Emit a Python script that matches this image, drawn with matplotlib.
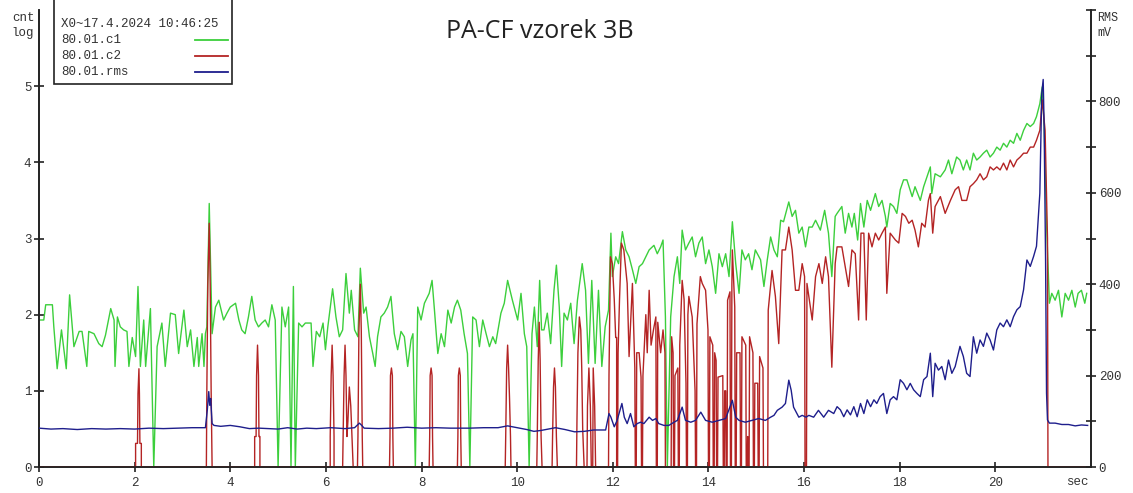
import matplotlib
matplotlib.use("Agg")
import matplotlib.pyplot as plt
from matplotlib.lines import Line2D
from matplotlib.patches import Rectangle

# ---- channel c1 (log counts) ----
c1_t = [0, 0.1, 0.14, 0.28, 0.31, 0.38, 0.47, 0.57, 0.64, 0.73, 0.84, 0.9, 1.0, 1.04, 1.15, 1.25,
        1.32, 1.39, 1.5, 1.57, 1.59, 1.64, 1.7, 1.77, 1.84, 1.88, 1.95, 2.02, 2.07, 2.12, 2.19, 2.23,
        2.33, 2.40, 2.47, 2.57, 2.64, 2.75, 2.85, 2.92, 3.03, 3.10, 3.17, 3.24, 3.31, 3.34, 3.41, 3.45,
        3.48, 3.51, 3.56, 3.62, 3.69, 3.76, 3.86, 3.93, 4.0, 4.11, 4.18, 4.24, 4.31, 4.38, 4.45, 4.52,
        4.59, 4.66, 4.73, 4.8, 4.87, 4.94, 5.0, 5.08, 5.15, 5.22, 5.27, 5.32, 5.36, 5.43, 5.5, 5.57,
        5.69, 5.73, 5.80, 5.87, 5.94, 5.99, 6.04, 6.14, 6.21, 6.28, 6.35, 6.42, 6.49, 6.53, 6.60, 6.67,
        6.72, 6.79, 6.84, 6.91, 6.98, 7.03, 7.08, 7.15, 7.22, 7.29, 7.36, 7.43, 7.50, 7.57, 7.64, 7.71,
        7.78, 7.82, 7.87, 7.92, 7.99, 8.06, 8.16, 8.22, 8.27, 8.34, 8.41, 8.48, 8.55, 8.62, 8.69, 8.75,
        8.82, 8.89, 8.96, 9.01, 9.07, 9.14, 9.21, 9.28, 9.35, 9.42, 9.49, 9.55, 9.66, 9.73, 9.80, 9.90,
        10.01, 10.08, 10.15, 10.20, 10.25, 10.31, 10.36, 10.42, 10.47, 10.51, 10.56, 10.63, 10.70, 10.77,
        10.82, 10.88, 10.93, 10.98, 11.05, 11.12, 11.19, 11.26, 11.36, 11.43, 11.49, 11.56, 11.63, 11.70,
        11.77, 11.84, 11.91, 11.96, 11.99, 12.06, 12.12, 12.20, 12.27, 12.34, 12.41, 12.48, 12.55, 12.62,
        12.69, 12.76, 12.86, 12.93, 13.0, 13.05, 13.10, 13.14, 13.21, 13.28, 13.35, 13.40, 13.45, 13.52,
        13.59, 13.66, 13.73, 13.80, 13.87, 13.94, 14.01, 14.08, 14.15, 14.22, 14.29, 14.36, 14.43, 14.50,
        14.57, 14.64, 14.70, 14.77, 14.84, 14.91, 14.98, 15.09, 15.16, 15.23, 15.30, 15.37, 15.44, 15.51,
        15.57, 15.68, 15.75, 15.82, 15.89, 15.96, 16.03, 16.10, 16.17, 16.24, 16.34, 16.43, 16.51, 16.58,
        16.65, 16.69, 16.79, 16.86, 16.93, 17.0, 17.05, 17.12, 17.18, 17.25, 17.32, 17.39, 17.49, 17.56,
        17.63, 17.70, 17.73, 17.80, 17.87, 17.94, 18.01, 18.08, 18.15, 18.26, 18.32, 18.43, 18.50, 18.57,
        18.64, 18.67, 18.74, 18.85, 18.95, 19.02, 19.09, 19.19, 19.26, 19.33, 19.40, 19.47, 19.54, 19.61,
        19.68, 19.75, 19.82, 19.89, 19.96, 20.03, 20.10, 20.17, 20.24, 20.31, 20.38, 20.45, 20.52, 20.59,
        20.66, 20.73, 20.80, 20.86, 20.93, 20.98, 21.02, 21.07, 21.13, 21.18, 21.25, 21.32, 21.39, 21.46,
        21.53, 21.60, 21.67, 21.73, 21.80, 21.87, 21.91]
c1_v = [1.93, 1.93, 2.13, 2.13, 1.84, 1.29, 1.8, 1.29, 2.26, 1.58, 1.78, 1.78, 1.32, 1.78, 1.75, 1.62,
        1.58, 1.73, 2.08, 1.93, 1.32, 1.97, 1.84, 1.8, 1.78, 1.32, 1.7, 1.45, 2.37, 1.32, 1.93, 1.32,
        2.08, 0.0, 1.58, 1.89, 1.32, 2.02, 2.0, 1.49, 2.06, 1.58, 1.8, 1.32, 1.7, 1.32, 1.75, 1.32,
        1.75, 1.84, 3.46, 1.75, 2.1, 2.19, 1.93, 2.02, 2.1, 2.15, 1.93, 1.8, 1.75, 1.97, 2.24, 1.93,
        1.84, 1.89, 1.93, 1.84, 2.13, 1.93, 0.0, 2.1, 1.84, 2.1, 0.0, 2.37, 0.0, 1.89, 1.84, 1.89,
        1.89, 1.32, 1.78, 1.71, 1.89, 1.54, 1.84, 2.34, 1.97, 1.71, 1.8, 2.54, 2.02, 2.32, 1.8, 1.71,
        2.61, 2.02, 2.1, 1.71, 1.49, 1.32, 1.71, 1.97, 2.02, 2.1, 2.24, 1.75, 1.54, 1.78, 1.71, 1.32,
        1.67, 1.75, 0.0, 2.1, 1.93, 2.15, 2.28, 2.45, 2.06, 1.49, 1.75, 1.58, 2.06, 1.89, 2.1, 2.19,
        2.06, 1.75, 1.49, 0.0, 1.97, 1.93, 1.58, 1.93, 1.75, 1.58, 1.71, 1.62, 2.02, 2.15, 2.45, 2.19,
        1.93, 2.28, 1.75, 1.58, 0.0, 1.75, 2.1, 1.58, 2.45, 1.8, 1.8, 2.02, 1.62, 2.32,
        2.65, 2.1, 1.32, 2.02, 1.93, 2.15, 1.62, 2.19, 2.67, 2.32, 1.36, 2.45, 1.36, 2.32,
        1.32, 1.84, 2.06, 3.07, 2.5, 2.76, 2.67, 3.09, 2.85, 2.76, 2.59, 2.41, 2.63, 2.67,
        2.76, 2.85, 2.91, 2.80, 2.89, 2.98, 1.97, 0.0, 1.97, 2.5, 2.76, 2.41, 3.11, 2.85,
        2.94, 3.02, 2.76, 2.94, 3.02, 2.67, 2.85, 2.63, 2.28, 2.80, 2.63, 2.80, 2.5, 3.22,
        2.67, 2.28, 2.85, 2.72, 2.80, 2.59, 2.85, 2.72, 2.37, 2.72, 3.02, 2.85, 2.76, 3.24,
        3.22, 3.48, 3.29, 3.37, 3.07, 3.15, 2.89, 3.15, 3.15, 3.24, 3.11, 3.37, 3.07, 2.5,
        3.29, 3.33, 3.42, 3.07, 3.33, 3.15, 3.33, 2.98, 3.46, 3.15, 3.50, 3.37, 3.59, 3.42,
        3.50, 3.29, 3.15, 3.46, 3.42, 3.33, 3.64, 3.77, 3.77, 3.55, 3.68, 3.50, 3.68, 3.81,
        3.94, 3.59, 3.85, 3.81, 3.90, 4.03, 3.85, 4.07, 4.03, 3.90, 4.03, 3.90, 4.12, 4.03,
        4.07, 4.12, 4.16, 4.07, 4.12, 4.20, 4.16, 4.25, 4.20, 4.29, 4.25, 4.38, 4.29, 4.42,
        4.51, 4.47, 4.51, 4.60, 4.77, 4.99, 4.47, 3.2, 2.15, 2.28, 2.19, 2.32, 1.97, 2.28,
        2.19, 2.32, 2.10, 2.28, 2.32, 2.15, 2.28]

# ---- channel c2 (log counts) ----
c2_t = [0, 2.02, 2.02, 2.06, 2.07, 2.09, 2.10, 2.11, 2.14, 2.14,
        3.50, 3.51, 3.53, 3.56, 3.58, 3.60, 3.62,
        4.51, 4.51, 4.54, 4.55, 4.57, 4.59, 4.60, 4.62, 4.62,
        6.09, 6.09, 6.11, 6.13, 6.15, 6.17, 6.17,
        6.35, 6.36, 6.38, 6.40, 6.42, 6.44, 6.46, 6.49, 6.52, 6.55, 6.57,
        6.66, 6.67, 6.69, 6.72, 6.74, 6.76, 6.77,
        7.33, 7.34, 7.35, 7.37, 7.39, 7.40, 7.41,
        8.16, 8.17, 8.18, 8.20, 8.22, 8.23, 8.24,
        8.75, 8.76, 8.77, 8.79, 8.81, 8.82, 8.83,
        9.75, 9.76, 9.78, 9.80, 9.82, 9.84, 9.86, 9.87,
        10.41, 10.42, 10.44, 10.46, 10.48, 10.50, 10.52,
        10.73, 10.74, 10.76, 10.78, 10.80, 10.82, 10.84,
        11.24, 11.25, 11.27, 11.30, 11.33, 11.35, 11.37, 11.40, 11.46, 11.47, 11.50, 11.53, 11.55,
        11.58, 11.59, 11.62, 11.64,
        11.91, 11.92, 11.95, 11.99, 12.03, 12.06, 12.08, 12.08, 12.10, 12.11, 12.14, 12.18, 12.23,
        12.30, 12.34, 12.41, 12.46, 12.47, 12.49, 12.50, 12.55, 12.59, 12.60, 12.62, 12.63, 12.69,
        12.72, 12.76, 12.80, 12.85, 12.90, 12.91, 12.93, 12.94, 13.00, 13.05, 13.09, 13.10, 13.22,
        13.23, 13.26, 13.27, 13.29, 13.30, 13.36, 13.37, 13.39, 13.40, 13.45, 13.49, 13.53, 13.54,
        13.56, 13.57, 13.59, 13.66, 13.72, 13.73, 13.75, 13.76, 13.83, 13.87, 13.94, 13.99, 14.0,
        14.02, 14.03, 14.09, 14.10, 14.12, 14.13, 14.16, 14.17, 14.19, 14.20, 14.30, 14.31, 14.33,
        14.34, 14.36, 14.37, 14.39, 14.40, 14.45, 14.46, 14.48, 14.49, 14.50, 14.53, 14.55, 14.56,
        14.58, 14.59, 14.66, 14.67, 14.69, 14.70, 14.78, 14.79, 14.81, 14.82, 14.83, 14.85, 14.86,
        14.93, 14.94, 14.96, 14.97, 15.03, 15.04, 15.06, 15.07, 15.14, 15.15, 15.24, 15.25, 15.33,
        15.40, 15.47, 15.54, 15.61, 15.68, 15.75, 15.82, 15.89, 15.96, 16.01, 16.02, 16.05, 16.06,
        16.17, 16.24, 16.31, 16.38, 16.45, 16.51, 16.58, 16.65,
        16.69, 16.79, 16.86, 16.93, 17.0, 17.07, 17.14, 17.19, 17.25, 17.30, 17.35, 17.42, 17.49,
        17.56, 17.63, 17.70, 17.73, 17.80, 17.91, 17.98, 18.05, 18.12, 18.19, 18.26, 18.32, 18.39,
        18.46, 18.53, 18.60, 18.64, 18.69, 18.74, 18.85, 18.95, 19.06, 19.16, 19.23, 19.30, 19.40,
        19.47, 19.54, 19.61, 19.68, 19.75, 19.82, 19.89, 19.96, 20.03, 20.10, 20.17, 20.24, 20.31,
        20.38, 20.45, 20.52, 20.59, 20.66, 20.73, 20.80, 20.86, 20.93, 20.98, 21.04, 21.09, 21.10,
        21.95]
c2_v = [0, 0, 0.31, 0.31, 0.96, 1.29, 0.96, 0.31, 0.31, 0,
        0, 1.0, 2.4, 3.2, 2.4, 1.0, 0,
        0, 0.4, 0.4, 1.2, 1.6, 1.2, 0.4, 0.4, 0,
        0, 0.4, 1.2, 1.6, 1.2, 0.4, 0,
        0, 0.4, 1.2, 1.6, 1.2, 0.4, 0.6, 1.05, 0.8, 0.3, 0,
        0, 0.4, 1.78, 2.4, 1.78, 0.4, 0,
        0, 0.4, 1.2, 1.3, 1.2, 0.4, 0,
        0, 0.4, 1.2, 1.3, 1.2, 0.4, 0,
        0, 0.4, 1.2, 1.3, 1.2, 0.4, 0,
        0, 0.4, 1.3, 1.6, 1.3, 0.9, 0.4, 0,
        0, 0.4, 1.4, 1.9, 1.4, 0.4, 0,
        0, 0.4, 1.05, 1.3, 1.05, 0.4, 0,
        0, 0.6, 1.5, 1.97, 1.8, 1.3, 0.5, 0, 0, 0.8, 1.3, 0.8, 0,
        0, 1.3, 0.8, 0,
        0, 1.2, 2.76, 2.67, 2.2, 1.7, 1.7, 0, 0, 1.5, 2.2, 2.94, 2.85,
        2.41, 1.45, 2.41, 1.3, 0, 0, 1.5, 1.5, 1.18, 0, 0, 1.2, 2.0,
        1.5, 2.32, 1.6, 1.8, 1.97, 0, 0, 1.9, 1.5, 1.8, 1.5, 0, 0,
        1.71, 1.5, 0, 0, 1.2, 1.3, 0, 0, 1.6, 2.45, 2.2, 1.1, 0,
        0, 2.0, 2.24, 1.97, 1.0, 0, 0, 1.88, 2.5, 2.41, 2.32, 1.8, 0,
        0, 1.71, 1.6, 0, 0, 1.5, 1.4, 0, 0, 1.18, 1.2, 0, 0,
        1.0, 1.0, 0, 0, 2.19, 2.3, 0, 0, 2.4, 2.85, 2.4, 2.1, 0,
        0, 1.5, 1.5, 0, 0, 1.71, 1.6, 0, 0, 0.4, 0, 0, 1.71,
        1.5, 0, 0, 1.1, 1.1, 0, 0, 1.45, 1.3, 0, 0, 2.06, 2.58,
        2.24, 1.62, 2.85, 2.85, 3.15, 2.85, 2.32, 2.32, 2.67, 2.5, 0, 0, 2.41,
        1.93, 2.5, 2.67, 2.41, 2.76, 2.5, 1.31, 2.67,
        2.89, 2.89, 2.63, 2.37, 2.85, 2.80, 1.93, 3.07, 3.07, 1.93, 3.07, 2.89, 3.07,
        2.98, 3.07, 3.15, 2.28, 3.07, 2.98, 2.94, 3.33, 3.29, 3.2, 3.24, 3.11, 2.89,
        3.2, 3.15, 3.50, 3.59, 3.07, 3.42, 3.55, 3.33, 3.50, 3.64, 3.68, 3.50, 3.50,
        3.68, 3.72, 3.77, 3.85, 3.77, 3.81, 3.94, 3.90, 3.94, 3.90, 3.99, 3.90, 4.03,
        3.94, 4.03, 4.07, 4.12, 4.12, 4.20, 4.20, 4.29, 4.42, 4.82, 4.42, 3.0, 0,
        0]

# ---- RMS voltage (mV) ----
rms_t = [0, 0.25, 0.5, 0.8, 1.1, 1.4, 1.7, 2.0, 2.3, 2.6, 2.9, 3.2, 3.48, 3.52, 3.55, 3.57, 3.59,
         3.62, 3.66, 3.8, 4.0, 4.2, 4.4, 4.6, 4.8, 5.0, 5.2, 5.4, 5.6, 5.8, 6.1, 6.4, 6.6, 6.70, 6.74,
         6.8, 7.1, 7.4, 7.7, 8.0, 8.3, 8.6, 9.0, 9.3, 9.6, 9.8, 10.0, 10.2, 10.35, 10.5, 10.7, 10.8,
         11.0, 11.2, 11.4, 11.6, 11.85, 11.92, 11.96, 12.03, 12.09, 12.19, 12.24, 12.30, 12.37,
         12.44, 12.51, 12.58, 12.65, 12.76, 12.83, 12.90, 12.96, 13.07, 13.17, 13.28, 13.35, 13.45,
         13.52, 13.63, 13.73, 13.84, 13.94, 14.08, 14.22, 14.36, 14.50, 14.57, 14.64, 14.77, 14.91,
         15.05, 15.19, 15.30, 15.37, 15.44, 15.54, 15.61, 15.68, 15.73, 15.78, 15.89, 15.96, 16.04,
         16.10, 16.20, 16.30, 16.41, 16.51, 16.62, 16.69, 16.76, 16.83, 16.90, 16.97, 17.04, 17.11,
         17.18, 17.25, 17.32, 17.39, 17.46, 17.52, 17.59, 17.66, 17.73, 17.80, 17.87, 17.94, 18.01,
         18.08, 18.15, 18.22, 18.29, 18.36, 18.43, 18.50, 18.57, 18.64, 18.69, 18.74, 18.81, 18.88,
         18.95, 19.02, 19.09, 19.16, 19.26, 19.33, 19.40, 19.47, 19.54, 19.61, 19.68, 19.75, 19.82,
         19.89, 19.96, 20.03, 20.10, 20.17, 20.24, 20.31, 20.38, 20.45, 20.52, 20.59, 20.66, 20.73,
         20.80, 20.86, 20.93, 20.97, 21.00, 21.02, 21.05, 21.07, 21.09, 21.13, 21.25, 21.39, 21.53,
         21.67, 21.80, 21.93]
rms_v = [85, 83, 84, 82, 84, 83, 84, 83, 85, 84, 85, 86, 86, 125, 165, 135, 150,
         95, 91, 89, 91, 88, 84, 85, 84, 83, 86, 83, 85, 84, 86, 84, 86, 96, 92,
         85, 84, 85, 87, 85, 86, 85, 85, 86, 86, 90, 86, 82, 78, 80, 84, 86,
         82, 77, 78, 81, 81, 117, 109, 88, 102, 139, 109, 95, 117,
         88, 95, 98, 95, 109, 102, 106, 95, 91, 91, 98, 102, 131,
         102, 98, 102, 120, 102, 98, 102, 106, 146, 109, 102, 98, 102,
         106, 102, 109, 113, 124, 131, 139, 190, 168, 131, 109, 113, 109,
         113, 109, 124, 109, 124, 117, 132, 125, 110, 125, 114, 132, 110,
         139, 117, 147, 132, 147, 139, 154, 161, 117, 147, 154, 147, 191,
         183, 169, 183, 169, 161, 154, 191, 198, 249, 154, 227, 212, 220,
         191, 234, 205, 220, 264, 242, 205, 198, 285, 249, 278, 264, 293,
         278, 256, 300, 315, 307, 322, 307, 329, 344, 351, 388, 453, 439,
         461, 483, 599, 818, 848, 745, 453, 162, 103, 96, 96, 93, 93,
         90, 92, 91]

x_ticks = [0, 2, 4, 6, 8, 10, 12, 14, 16, 18, 20]
left_ticks = [0, 1, 2, 3, 4, 5]
right_ticks = [0, 100, 200, 300, 400, 500, 600, 700, 800, 900, 1000]
right_labels = ["0", "", "200", "", "400", "", "600", "", "800", "", ""]
legend_rows = ["80.01.c1", "80.01.c2", "80.01.rms"]
legend_header = "X0~17.4.2024 10:46:25"
title = "PA-CF vzorek 3B"

C1_COLOR = "#3ccf3c"
C2_COLOR = "#b42424"
RMS_COLOR = "#1e1e8c"
AXIS_COLOR = "#222222"
MONO = ["Liberation Mono", "DejaVu Sans Mono"]

W, H = 1133, 493
fig = plt.figure(figsize=(W / 100, H / 100), dpi=100)
fig.patch.set_facecolor("white")


def fx(px):
    return px / W


def fy(py):
    return 1 - py / H


ax = fig.add_axes([fx(39), fy(467), fx(1091) - fx(39), fy(10) - fy(467)])
ax2 = ax.twinx()

ax.plot(c1_t, c1_v, color=C1_COLOR, lw=1.0, zorder=2)
ax.plot(c2_t, c2_v, color=C2_COLOR, lw=1.0, zorder=3)
ax2.plot(rms_t, rms_v, color=RMS_COLOR, lw=1.0, zorder=4)

ax.set_xlim(0, 22)
ax.set_ylim(0, 6)
ax2.set_ylim(0, 1000)

for a in (ax, ax2):
    a.spines["top"].set_visible(False)
    for s in ("left", "right", "bottom"):
        a.spines[s].set_color(AXIS_COLOR)
        a.spines[s].set_linewidth(1.2)
    a.patch.set_visible(False)

ax.set_xticks(x_ticks)
ax.set_xticklabels([str(v) for v in x_ticks])
ax.set_yticks(left_ticks)
ax.set_yticklabels([str(v) for v in left_ticks])
ax2.set_yticks(right_ticks)
ax2.set_yticklabels(right_labels)

ax.tick_params(axis="both", direction="inout", length=7, width=1.2, color=AXIS_COLOR,
               labelsize=9, labelcolor="#333333", pad=2)
ax.tick_params(axis="x", pad=4)
ax2.tick_params(axis="y", direction="inout", length=7, width=1.2, color=AXIS_COLOR,
                labelsize=9, labelcolor="#333333", pad=2)
for lab in ax.get_xticklabels() + ax.get_yticklabels() + ax2.get_yticklabels():
    lab.set_family(MONO)

# axis captions
fig.text(fx(23), fy(18), "cnt", family=MONO, fontsize=9, color="#333333", ha="center", va="center")
fig.text(fx(23), fy(33), "log", family=MONO, fontsize=9, color="#333333", ha="center", va="center")
fig.text(fx(1108), fy(18), "RMS", family=MONO, fontsize=8.5, color="#333333", ha="center", va="center")
fig.text(fx(1104), fy(33), "mV", family=MONO, fontsize=8.5, color="#333333", ha="center", va="center")
fig.text(fx(1077), fy(482), "sec", family=MONO, fontsize=9, color="#333333", ha="center", va="center")

fig.text(fx(540), fy(31), title, family=["Open Sans", "DejaVu Sans"], fontsize=18,
         color="#222222", ha="center", va="center")

# legend box
fig.add_artist(Rectangle((fx(54), fy(84)), fx(232) - fx(54), fy(-5) - fy(84),
                         transform=fig.transFigure, facecolor="white",
                         edgecolor=AXIS_COLOR, lw=1.2, zorder=10))
fig.text(fx(61), fy(24), legend_header, family=MONO, fontsize=9, color="#333333",
         ha="left", va="center", zorder=11)
for row, (name, col) in enumerate(zip(legend_rows, [C1_COLOR, C2_COLOR, RMS_COLOR])):
    y = 40 + row * 16
    fig.text(fx(61), fy(y), name, family=MONO, fontsize=9, color="#333333",
             ha="left", va="center", zorder=11)
    fig.add_artist(Line2D([fx(195), fx(228)], [fy(y), fy(y)], transform=fig.transFigure,
                          color=col, lw=1.3, zorder=11))

fig.savefig("out.png", dpi=100)
